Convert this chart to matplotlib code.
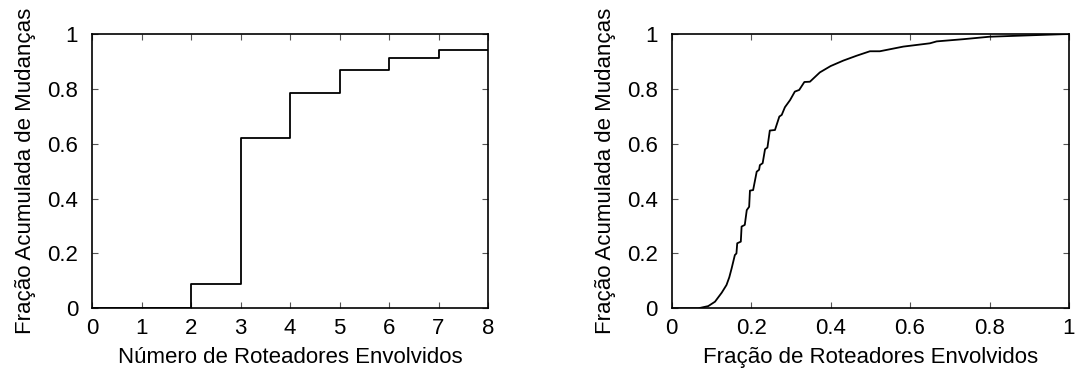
import matplotlib
matplotlib.use("Agg")
import matplotlib.pyplot as plt

plt.rcParams['font.family'] = ['Liberation Sans', 'DejaVu Sans']
plt.rcParams['font.size'] = 16

# dados - painel esquerdo (numero de roteadores)
num_roteadores = [0, 1, 2, 3, 4, 5, 6, 7, 8]
frac_num = [0.0, 0.0, 0.087, 0.621, 0.786, 0.869, 0.914, 0.942, 0.942]

# dados - painel direito (fracao de roteadores)
frac_rot = [0.0, 0.067, 0.092, 0.109, 0.126, 0.138, 0.145, 0.151, 0.159, 0.163,
            0.165, 0.174, 0.176, 0.184, 0.189, 0.195, 0.197, 0.205, 0.214, 0.220,
            0.222, 0.229, 0.235, 0.241, 0.247, 0.260, 0.271, 0.277, 0.285, 0.298,
            0.310, 0.321, 0.334, 0.348, 0.373, 0.400, 0.432, 0.466, 0.499, 0.524,
            0.583, 0.650, 0.667, 0.734, 0.800, 0.919, 1.0]
frac_acum = [0.0, 0.0, 0.008, 0.024, 0.057, 0.085, 0.113, 0.146, 0.194, 0.200,
             0.237, 0.243, 0.298, 0.304, 0.358, 0.370, 0.429, 0.431, 0.498, 0.505,
             0.522, 0.529, 0.580, 0.586, 0.648, 0.650, 0.699, 0.705, 0.733, 0.759,
             0.790, 0.796, 0.825, 0.826, 0.860, 0.883, 0.903, 0.921, 0.937, 0.937,
             0.954, 0.966, 0.973, 0.981, 0.990, 0.996, 1.0]

y_ticks = [0, 0.2, 0.4, 0.6, 0.8, 1]
y_labels = ['0', '0.2', '0.4', '0.6', '0.8', '1']

fig = plt.figure(figsize=(10.79, 3.78), dpi=100)
ax1 = fig.add_axes([0.0853, 0.1844, 0.367, 0.7257])
ax2 = fig.add_axes([0.6225, 0.1844, 0.3682, 0.7257])

ax1.step(num_roteadores, frac_num, where='post', color='black', lw=1.3)
ax1.set_xlim(0, 8)
ax1.set_xticks(num_roteadores)
ax1.set_xlabel('Número de Roteadores Envolvidos', labelpad=6)

ax2.plot(frac_rot, frac_acum, color='black', lw=1.3)
ax2.set_xlim(0, 1)
ax2.set_xticks([0, 0.2, 0.4, 0.6, 0.8, 1])
ax2.set_xticklabels(['0', '0.2', '0.4', '0.6', '0.8', '1'])
ax2.set_xlabel('Fração de Roteadores Envolvidos', labelpad=6)

for ax in (ax1, ax2):
    ax.set_ylim(0, 1)
    ax.set_yticks(y_ticks)
    ax.set_yticklabels(y_labels)
    ax.set_ylabel('Fração Acumulada de Mudanças', labelpad=8)
    ax.tick_params(direction='in', top=True, right=True, length=4, width=0.8,
                   color='#555555')
    ax.tick_params(axis='y', pad=10)
    ax.tick_params(axis='x', pad=7)
    for s in ax.spines.values():
        s.set_linewidth(1.2)

fig.savefig('out.png', dpi=100)
